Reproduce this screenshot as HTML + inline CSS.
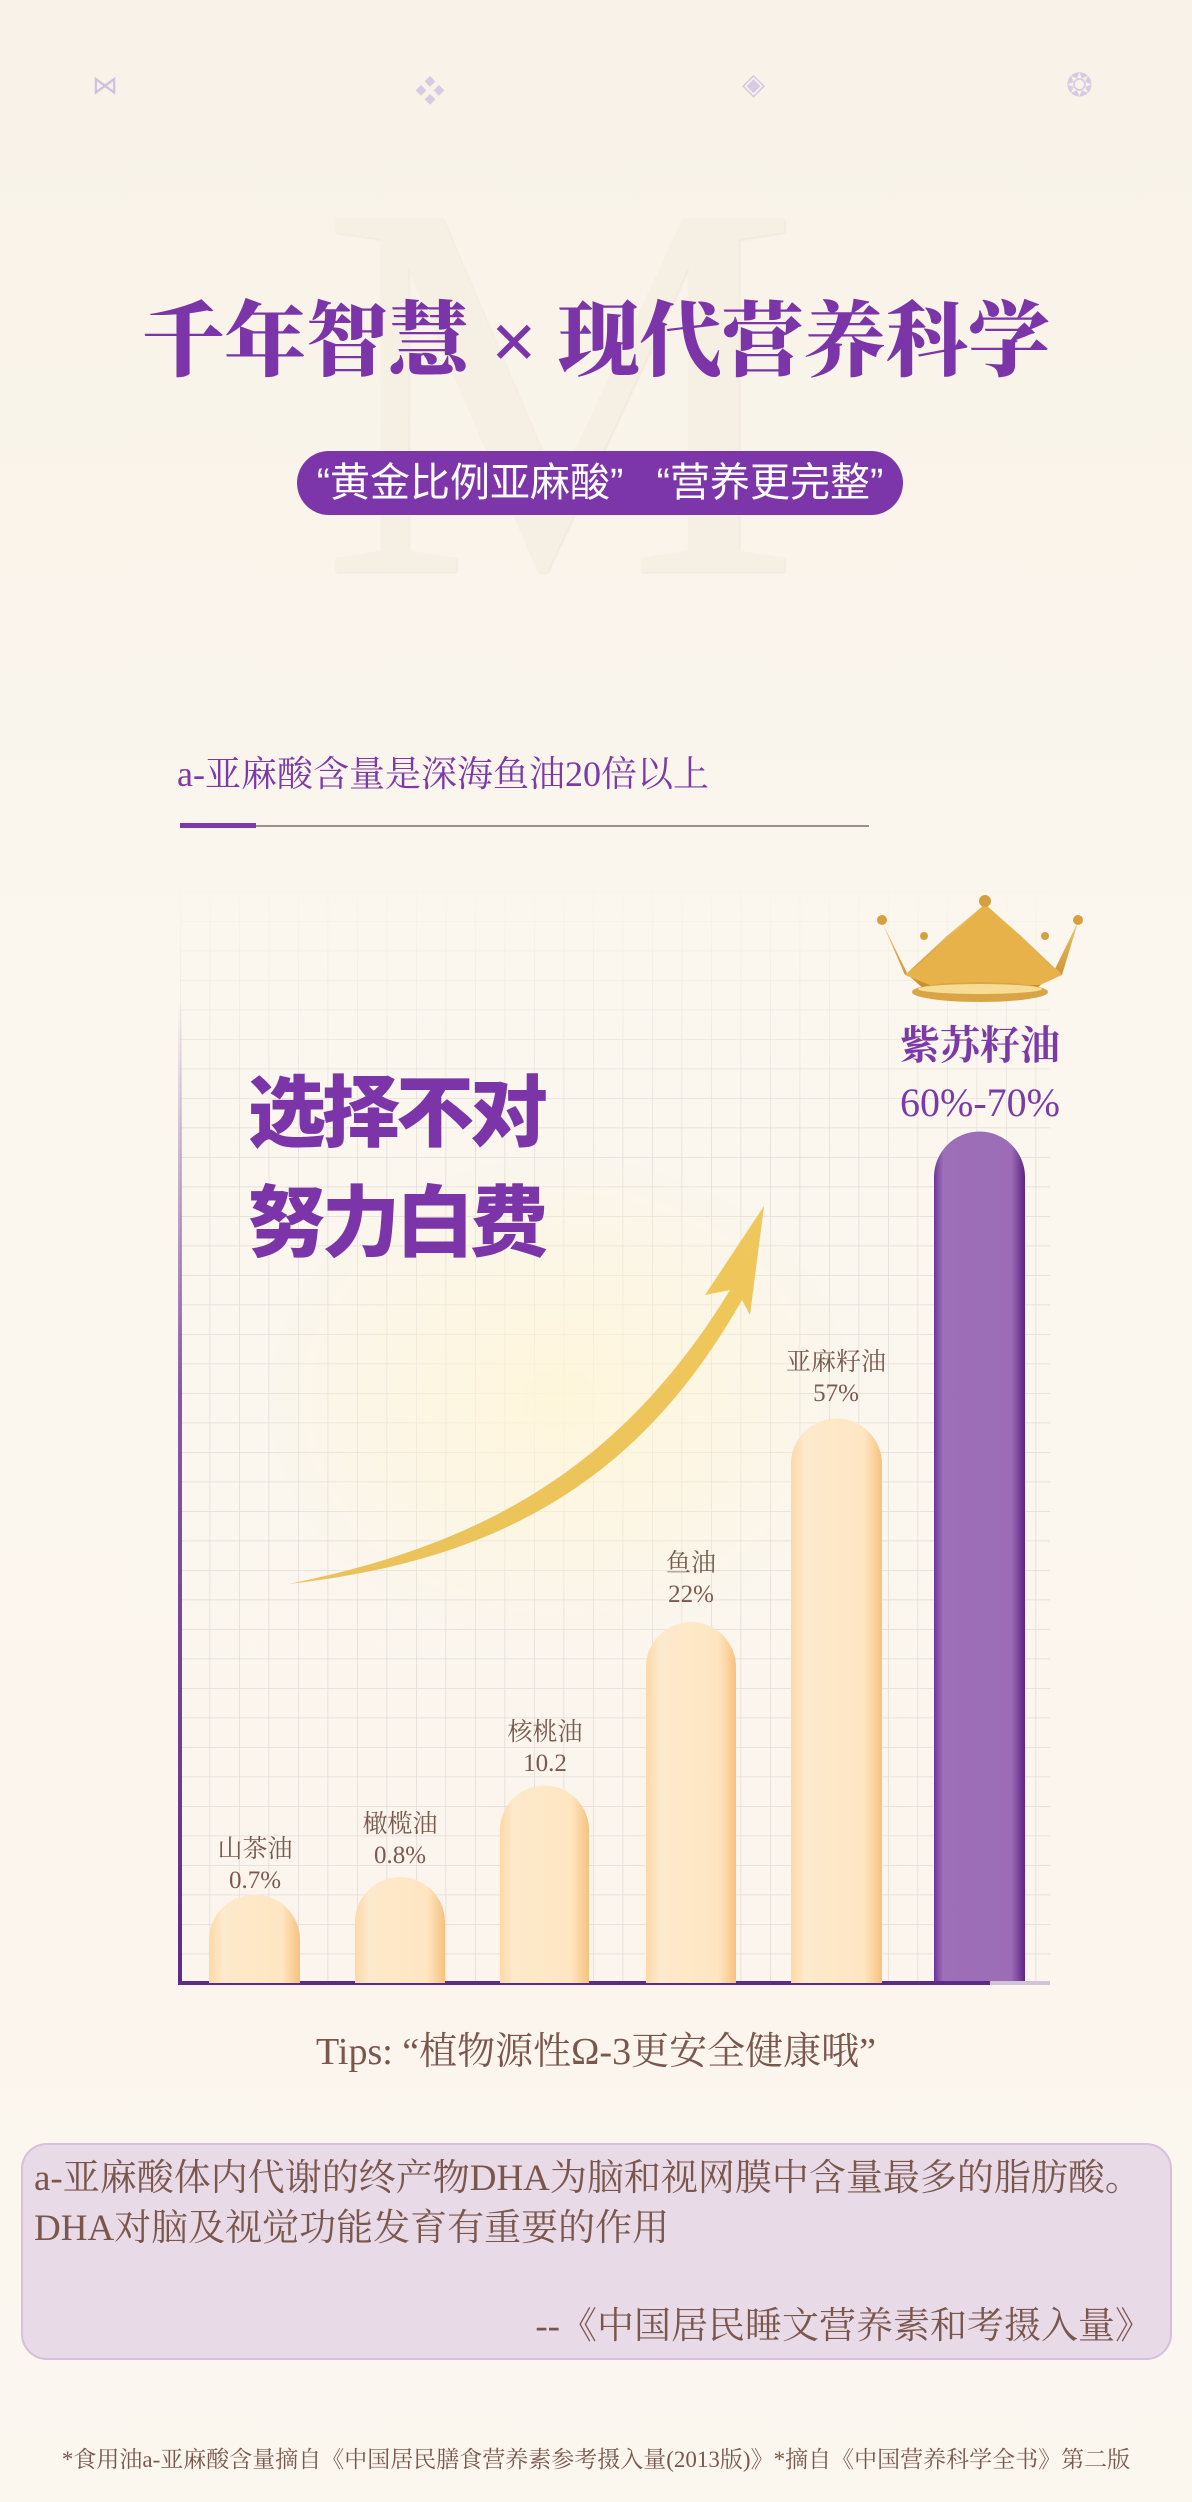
<!DOCTYPE html>
<html><head><meta charset="utf-8"><style>
html,body{margin:0;padding:0}
body{width:1192px;height:2502px;position:relative;overflow:hidden;background:linear-gradient(180deg,#f8f2e8 0%,#fbf6ee 40%,#fbf5ee 80%,#fbf7ef 100%);font-family:"Liberation Serif","Noto Serif CJK SC",serif}
.a{position:absolute;white-space:nowrap}
.t{left:0;width:1192px;text-align:center;top:292px;font-size:82px;font-weight:900;color:#7b35a8;line-height:100px;font-family:"Liberation Serif","Noto Serif CJK SC",serif}
.pill{left:297px;top:451px;width:606px;height:64px;border-radius:32px;background:#7c36aa;color:#fff;font-size:40px;line-height:64px;text-align:center;font-family:"Liberation Sans","Noto Sans CJK SC",sans-serif}
.sub{left:177px;top:750px;font-size:36px;color:#7b3aa8;line-height:48px;font-family:"Liberation Serif","Noto Serif CJK SC",serif}
.big{left:248px;font-size:78px;font-weight:900;color:#7b35a8;line-height:90px;font-family:"Liberation Sans","Noto Sans CJK SC",sans-serif;letter-spacing:-4px}
.lab{font-size:25px;color:#7a5a4e;text-align:center;line-height:31px;width:160px}
.box{left:21px;top:2143px;width:1147px;height:213px;border-radius:26px;background:rgba(226,208,228,0.75);border:2px solid #d8bfdc}
.bt{font-size:37px;color:#7a574d;line-height:50px;font-family:"Liberation Serif","Noto Serif CJK SC",serif}
</style></head><body>
<div class="a" style="left:92px;top:70px;font-size:26px;color:#cfc2e0;font-family:'Liberation Sans',sans-serif">⋈</div>
<div class="a" style="left:415px;top:67px;font-size:30px;color:#d6cbe3">❖</div>
<div class="a" style="left:742px;top:67px;font-size:30px;color:#d6cbe3">◈</div>
<div class="a" style="left:1066px;top:66px;font-size:32px;color:#d6cbe3">❂</div>
<div class="a" style="left:320px;top:110px;font-size:540px;line-height:560px;color:#f6efe3;font-family:'Liberation Serif',serif;text-shadow:1px 1px 2px rgba(200,180,150,0.2)">M</div>
<div class="a t">千年智慧 × 现代营养科学</div>
<div class="a pill">“黄金比例亚麻酸”&nbsp;&nbsp;&nbsp;“营养更完整”</div>
<div class="a sub">a-亚麻酸含量是深海鱼油20倍以上</div>
<div class="a" style="left:180px;top:825px;width:689px;height:2px;background:#9a9090"></div>
<div class="a" style="left:180px;top:823px;width:76px;height:5px;background:#7b3aa8"></div>

<svg class="a" style="left:0;top:0" width="1192" height="2502">
<defs>
<pattern id="g" width="29.5" height="29.5" patternUnits="userSpaceOnUse" x="180" y="1983">
<path d="M0 0H29.5M0 0V29.5" stroke="#e2dcd8" stroke-width="1.5" fill="none"/></pattern>
<linearGradient id="fade" x1="0" y1="0" x2="0" y2="1"><stop offset="0" stop-color="#fff" stop-opacity="0"/><stop offset="0.25" stop-color="#fff" stop-opacity="1"/></linearGradient>
<mask id="m"><rect x="180" y="880" width="880" height="1103" fill="url(#fade)"/></mask>
<linearGradient id="bar" x1="0" y1="0" x2="1" y2="0"><stop offset="0" stop-color="#fbd9a6"/><stop offset="0.15" stop-color="#fde9cc"/><stop offset="0.8" stop-color="#fee6c2"/><stop offset="1" stop-color="#f6c27f"/></linearGradient>
<linearGradient id="pb" x1="0" y1="0" x2="1" y2="0"><stop offset="0" stop-color="#6e3599"/><stop offset="0.1" stop-color="#9d6fb8"/><stop offset="0.85" stop-color="#9c6db6"/><stop offset="1" stop-color="#5c2385"/></linearGradient>
<linearGradient id="ax" x1="0" y1="0" x2="0" y2="1"><stop offset="0" stop-color="#6a3397" stop-opacity="0"/><stop offset="0.4" stop-color="#6a3397" stop-opacity="0.8"/><stop offset="1" stop-color="#5a2c86"/></linearGradient>
<linearGradient id="arr" x1="0" y1="1" x2="1" y2="0"><stop offset="0" stop-color="#e9c25a"/><stop offset="1" stop-color="#f0c75a"/></linearGradient>
<radialGradient id="glow" cx="0.5" cy="0.5" r="0.5"><stop offset="0" stop-color="#fff6d8" stop-opacity="0.9"/><stop offset="1" stop-color="#fff6d8" stop-opacity="0"/></radialGradient>
<linearGradient id="cr" x1="0" y1="0" x2="0" y2="1"><stop offset="0" stop-color="#f6d27a"/><stop offset="1" stop-color="#c88a2a"/></linearGradient>
</defs>
<rect x="180" y="880" width="870" height="1103" fill="url(#g)" mask="url(#m)"/>
<ellipse cx="560" cy="1400" rx="300" ry="250" fill="url(#glow)"/>
<rect x="178" y="1000" width="4" height="985" fill="url(#ax)"/>
<rect x="178" y="1981" width="870" height="4" fill="#5a2c86"/>
<rect x="990" y="1981" width="60" height="4" fill="#cfc4d8"/>
<path d="M209 1983V1940a45.5 45.5 0 0 1 91 0V1983Z" fill="url(#bar)"/>
<path d="M355 1983V1922a45 45 0 0 1 90 0V1983Z" fill="url(#bar)"/>
<path d="M500 1983V1830a44.5 44.5 0 0 1 89 0V1983Z" fill="url(#bar)"/>
<path d="M646 1983V1667a45 45 0 0 1 90 0V1983Z" fill="url(#bar)"/>
<path d="M791 1983V1464a45.5 45.5 0 0 1 91 0V1983Z" fill="url(#bar)"/>
<path d="M934 1981V1177a45.5 45.5 0 0 1 91 0V1981Z" fill="url(#pb)"/>
<path d="M289 1584 C480 1545 620 1470 730 1290 L705 1295 L764 1206 L750 1315 L742 1300 C640 1480 500 1560 289 1584Z" fill="url(#arr)"/>
<g>
<path d="M882 922 L905 975 L948 935 L985 904 L1020 935 L1062 975 L1078 922 L1052 975 L1035 990 L925 990 L908 975Z" fill="url(#cr)"/>
<path d="M905 975 L935 950 L985 904 L1035 950 L1062 975 L1040 985 L930 985Z" fill="#e8b24a"/>
<ellipse cx="980" cy="992" rx="68" ry="10" fill="#d9a446"/>
<ellipse cx="980" cy="989" rx="62" ry="5" fill="#f6dc94"/>
<circle cx="882" cy="920" r="5" fill="#d6a03f"/><circle cx="924" cy="936" r="4" fill="#d6a03f"/>
<circle cx="985" cy="901" r="6" fill="#d6a03f"/><circle cx="1045" cy="936" r="4" fill="#d6a03f"/>
<circle cx="1078" cy="920" r="5" fill="#d6a03f"/>
</g>
</svg>

<div class="a big" style="top:1068px">选择不对</div>
<div class="a big" style="top:1178px">努力白费</div>

<div class="a lab" style="left:175px;top:1834px">山茶油<br>0.7%</div>
<div class="a lab" style="left:320px;top:1809px">橄榄油<br>0.8%</div>
<div class="a lab" style="left:465px;top:1717px">核桃油<br>10.2</div>
<div class="a lab" style="left:611px;top:1548px">鱼油<br>22%</div>
<div class="a lab" style="left:756px;top:1347px">亚麻籽油<br>57%</div>
<div class="a" style="left:860px;top:1020px;width:240px;text-align:center;font-size:40px;font-weight:700;color:#7b3aa8;line-height:52px">紫苏籽油</div>
<div class="a" style="left:860px;top:1078px;width:240px;text-align:center;font-size:40px;color:#7b3aa8;line-height:50px">60%-70%</div>

<div class="a" style="left:0;width:1192px;text-align:center;top:2027px;font-size:38px;color:#7a574d;line-height:50px">Tips: “植物源性Ω-3更安全健康哦”</div>

<div class="a box"></div>
<div class="a bt" style="left:34px;top:2154px">a-亚麻酸体内代谢的终产物DHA为脑和视网膜中含量最多的脂肪酸。</div>
<div class="a bt" style="left:34px;top:2204px">DHA对脑及视觉功能发育有重要的作用</div>
<div class="a bt" style="right:40px;top:2302px">--《中国居民睡文营养素和考摄入量》</div>

<div class="a" style="left:0;width:1192px;text-align:center;top:2445px;font-size:23px;color:#7a574d;line-height:30px">*食用油a-亚麻酸含量摘自《中国居民膳食营养素参考摄入量(2013版)》*摘自《中国营养科学全书》第二版</div>
</body></html>
